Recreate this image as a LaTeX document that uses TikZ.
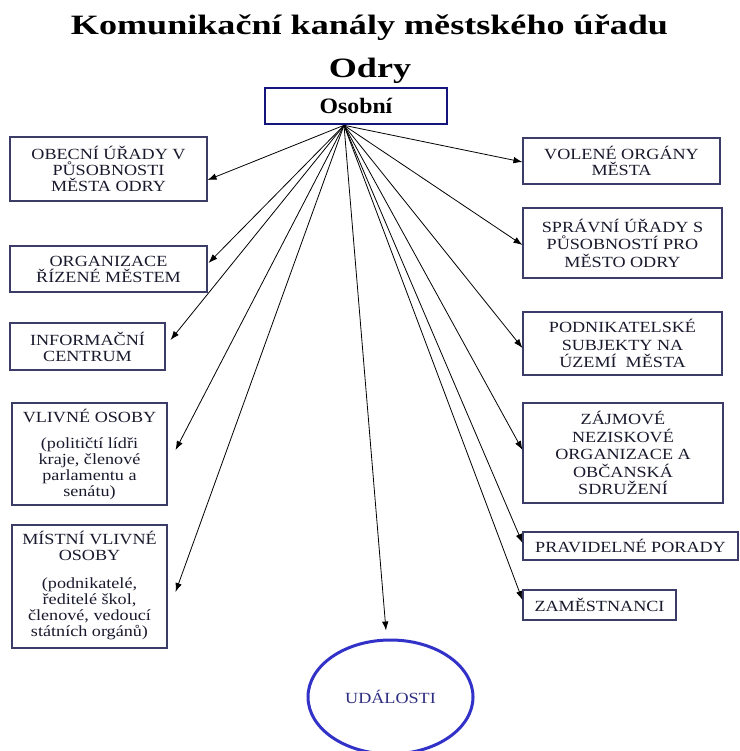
\documentclass[tikz,border=0pt]{standalone}
\usepackage{fontspec}
\setmainfont{Liberation Serif}
\newfontfamily\titlefont[FakeStretch=1.29]{Liberation Serif} % široký nadpis
\newfontfamily\boxfont[FakeStretch=1.17]{Liberation Serif}
\newfontfamily\headfont[FakeStretch=1.08]{Liberation Serif}
\usetikzlibrary{arrows.meta,shapes.geometric}
\definecolor{rambox}{RGB}{60,60,105}
\definecolor{textbox}{RGB}{25,25,45}
\definecolor{osobniblue}{RGB}{20,20,125}
\definecolor{udalostblue}{RGB}{50,50,200}
\definecolor{udalosttext}{RGB}{45,45,130}

\begin{document}
\begin{tikzpicture}[x=1pt,y=-1pt] % souřadnice v pixelech, y dolů
\tikzstyle{kanal} = [draw=rambox, line width=1.1pt, text=textbox, align=center, inner sep=0pt,
  font=\boxfont\fontsize{15.5}{16}\selectfont] % obdélník kanálu
\tikzstyle{kanalvolny} = [kanal, font=\boxfont\fontsize{15.5}{17.5}\selectfont] % větší řádkování
\tikzstyle{sipka} = [-{Latex[length=9pt,width=6.5pt]}, line width=0.8pt, black] % šipka od "Osobní"
\useasboundingbox (0,0) rectangle (739,751);

% nadpis
\node[font=\titlefont\bfseries\fontsize{28}{30}\selectfont, anchor=base] (nadpis) at (369.5,35) {Komunikační kanály městského úřadu};
\node[font=\titlefont\bfseries\fontsize{28}{30}\selectfont, anchor=base] (nadpisb) at (370,78) {Odry};

% zdroj
\node[draw=osobniblue, line width=2.6pt, minimum width=182pt, minimum height=36pt,
  font=\headfont\bfseries\fontsize{22}{24}\selectfont] (osobni) at (356,106) {Osobní};
\coordinate (zdroj) at ([xshift=-12pt]osobni.south);

% levý sloupec
\node[kanal, minimum width=197pt, minimum height=64pt] (obecni) at (108.5,169) {OBECNÍ ÚŘADY V\\PŮSOBNOSTI\\MĚSTA ODRY};
\node[kanal, minimum width=197pt, minimum height=46pt] (organizace) at (108.5,269) {ORGANIZACE\\ŘÍZENÉ MĚSTEM};
\node[kanal, minimum width=155pt, minimum height=47pt] (info) at (87.5,346.5) {INFORMAČNÍ\\CENTRUM};
\node[kanal, minimum width=155pt, minimum height=102pt] (vlivne) at (89.5,454) {VLIVNÉ OSOBY\\[10pt](političtí lídři\\kraje, členové\\parlamentu a\\senátu)};
\node[kanal, minimum width=155pt, minimum height=123pt, text depth=6pt] (mistni) at (89.5,586.5) {MÍSTNÍ VLIVNÉ\\OSOBY\\[12pt](podnikatelé,\\ředitelé škol,\\členové, vedoucí\\státních orgánů)};

% pravý sloupec
\node[kanal, minimum width=197pt, minimum height=46pt] (volene) at (621.5,161) {VOLENÉ ORGÁNY\\MĚSTA};
\node[kanalvolny, minimum width=199pt, minimum height=70pt] (spravni) at (622.5,243) {SPRÁVNÍ ÚŘADY S\\PŮSOBNOSTÍ PRO\\MĚSTO ODRY};
\node[kanalvolny, minimum width=199pt, minimum height=63pt] (podnik) at (622.5,343.5) {PODNIKATELSKÉ\\SUBJEKTY NA\\ÚZEMÍ\ \ MĚSTA};
\node[kanalvolny, minimum width=200pt, minimum height=100pt] (zajmove) at (623,453) {ZÁJMOVÉ\\NEZISKOVÉ\\ORGANIZACE A\\OBČANSKÁ\\SDRUŽENÍ};
\node[kanal, minimum width=215pt, minimum height=28pt] (porady) at (630.5,546) {PRAVIDELNÉ PORADY};
\node[kanal, minimum width=153pt, minimum height=30pt] (zamest) at (599.5,605) {ZAMĚSTNANCI};

% událost
\node[ellipse, draw=udalostblue, line width=3pt, minimum width=165pt, minimum height=114pt, inner sep=0pt,
  text=udalosttext, font=\boxfont\fontsize{15.5}{16}\selectfont] (udalosti) at (390.5,697) {UDÁLOSTI};

% šipky
\foreach \cil/\dx/\dy in {obecni.east/0/-11, organizace.east/1/6, info.east/5/6.5, vlivne.east/8/4, mistni.east/8/-5.5,
  volene.west/0/-1, spravni.west/0/-2, podnik.west/0/-4.5, zajmove.west/0/3, porady.west/0/3, zamest.west/0/5,
  udalosti.north/-4.5/8}
  \draw[sipka] (zdroj) -- ([xshift=\dx pt,yshift=\dy pt]\cil);
\end{tikzpicture}
\end{document}
